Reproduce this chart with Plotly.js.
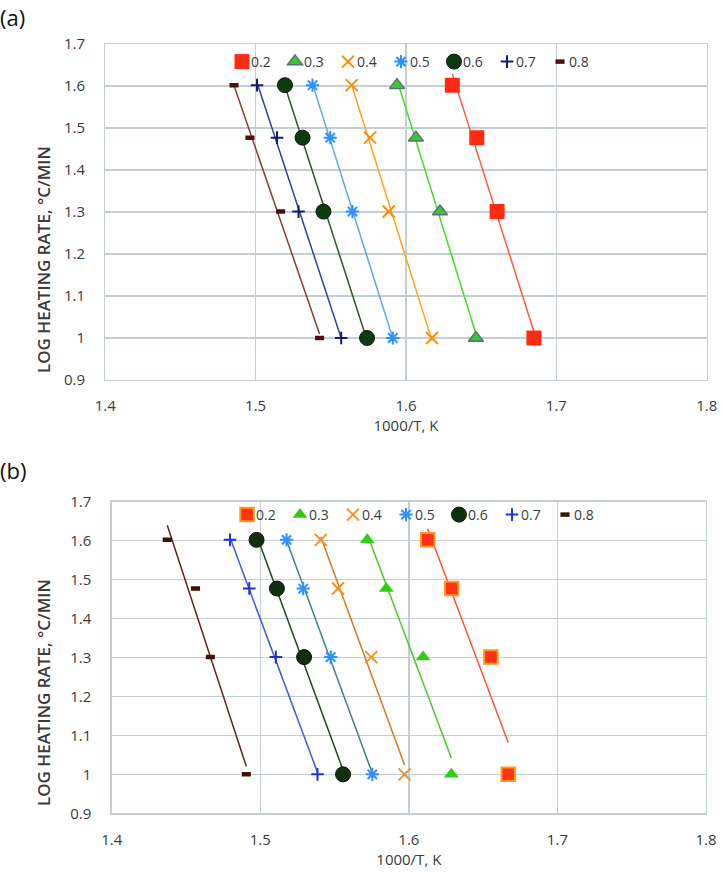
<!DOCTYPE html>
<html><head><meta charset="utf-8">
<script src="https://cdn.plot.ly/plotly-3.0.1.min.js"></script>
<style>html,body{margin:0;padding:0;background:#fff}#chart{width:722px;height:872px}</style>
</head><body><div id="chart"></div>
<script>
// ---- data ----
const logRate = [1.602, 1.477, 1.301, 1.0];          // log heating rate (40, 30, 20, 10 °C/min)
const seriesNames = ['0.2', '0.3', '0.4', '0.5', '0.6', '0.7', '0.8'];
// panel (a): 1000/T values per conversion level
const a02 = [1.6308, 1.6471, 1.6606, 1.6851];
const a03 = [1.5940, 1.6066, 1.6226, 1.6465];
const a04 = [1.5639, 1.5761, 1.5885, 1.6173];
const a05 = [1.5378, 1.5496, 1.5644, 1.5912];
const a06 = [1.5195, 1.5312, 1.5451, 1.5741];
const a07 = [1.5009, 1.5142, 1.5285, 1.5569];
const a08 = [1.4856, 1.4962, 1.5166, 1.5425];
// panel (b)
const b02 = [1.6127, 1.6288, 1.6552, 1.6669];
const b03 = [1.5720, 1.5848, 1.6096, 1.6286];
const b04 = [1.5407, 1.5523, 1.5747, 1.5971];
const b05 = [1.5177, 1.5289, 1.5474, 1.5754];
const b06 = [1.4975, 1.5112, 1.5295, 1.5557];
const b07 = [1.4796, 1.4926, 1.5105, 1.5385];
const b08 = [1.4374, 1.4564, 1.4664, 1.4906];
const xTickVals = [1.4, 1.5, 1.6, 1.7, 1.8];
const yTickVals = [0.9, 1, 1.1, 1.2, 1.3, 1.4, 1.5, 1.6, 1.7];
const xTitle = '1000/T, K';
const yTitle = 'LOG HEATING RATE, °C/MIN';

const panelA = [a02, a03, a04, a05, a06, a07, a08];
const panelB = [b02, b03, b04, b05, b06, b07, b08];

// ---- styles ----
const styleA = [
  {m: {symbol: 'square', size: 15, color: '#ff2a12', line: {width: 0}}, l: '#ff5a3c'},
  {m: {symbol: 'triangle-up', size: 13, color: '#33cc2c', line: {width: 1.5, color: '#5f6f75'}}, l: '#44dd22'},
  {m: {symbol: 'x-thin-open', size: 12, color: '#ff8c00', line: {width: 2, color: '#ff8c00'}}, l: '#ffa31a'},
  {m: {symbol: 'asterisk-open', size: 11, color: '#2e8fff', line: {width: 2, color: '#2e8fff'}}, l: '#55aaee'},
  {m: {symbol: 'circle', size: 15, color: '#0f3a0f', line: {width: 1, color: '#082008'}}, l: '#2c5a22'},
  {m: {symbol: 'cross-thin-open', size: 9, color: '#0d1f73', line: {width: 2, color: '#0d1f73'}}, l: '#2c449a'},
  {m: {symbol: 'line-ew-open', size: 6.5, color: '#4d1208', line: {width: 4.5, color: '#4d1208'}}, l: '#8a3d2a'}
];
const styleB = [
  {m: {symbol: 'square', size: 13.5, color: '#ff3311', line: {width: 2, color: '#ff9922'}}, l: '#ff5533'},
  {m: {symbol: 'triangle-up', size: 13, color: '#33cc11', line: {width: 0}}, l: '#44cc22'},
  {m: {symbol: 'x-thin-open', size: 12, color: '#ff8c1a', line: {width: 2, color: '#ff8c1a'}}, l: '#d9781a'},
  {m: {symbol: 'asterisk-open', size: 11, color: '#2e8fff', line: {width: 2, color: '#2e8fff'}}, l: '#3f7f8f'},
  {m: {symbol: 'circle', size: 15, color: '#0f2f0f', line: {width: 1, color: '#061806'}}, l: '#1f4a18'},
  {m: {symbol: 'cross-thin-open', size: 9, color: '#1a2fe0', line: {width: 2, color: '#1a2fe0'}}, l: '#3a5ee0'},
  {m: {symbol: 'line-ew-open', size: 6.5, color: '#3d1400', line: {width: 4.5, color: '#3d1400'}}, l: '#5a2a18'}
];

// linear trendline y = a + b x, drawn across the data's x range (as a spreadsheet trendline)
function trend(xs, ys) {
  const n = xs.length;
  const mx = xs.reduce((s, v) => s + v, 0) / n;
  const my = ys.reduce((s, v) => s + v, 0) / n;
  let sxy = 0, sxx = 0;
  for (let i = 0; i < n; i++) { sxy += (xs[i] - mx) * (ys[i] - my); sxx += (xs[i] - mx) * (xs[i] - mx); }
  const b = sxy / sxx, a = my - b * mx;
  const x0 = Math.min(...xs), x1 = Math.max(...xs);
  return {x: [x0, x1], y: [a + b * x0, a + b * x1]};
}

const traces = [];
function addPanel(panel, styles, xa, ya, legendId) {
  panel.forEach((xs, i) => {
    const t = trend(xs, logRate);
    traces.push({x: t.x, y: t.y, xaxis: xa, yaxis: ya, mode: 'lines', type: 'scatter',
      line: {color: styles[i].l, width: 1.5}, showlegend: false, hoverinfo: 'skip'});
  });
  panel.forEach((xs, i) => {
    traces.push({x: xs, y: logRate, xaxis: xa, yaxis: ya, mode: 'markers', type: 'scatter',
      name: seriesNames[i], marker: styles[i].m, legend: legendId});
  });
}
addPanel(panelA, styleA, 'x', 'y', 'legend');
addPanel(panelB, styleB, 'x2', 'y2', 'legend2');

const gridC = '#c3cfd3';
const FONT = 'Open Sans, sans-serif';
const tickFont = {family: FONT, size: 15, color: '#3a3a3a'};
function xAx(domain, anchor) {
  return {domain: domain, anchor: anchor, range: [1.4, 1.8], tickvals: xTickVals, ticktext: xTickVals.map(String),
    showgrid: true, gridcolor: gridC, gridwidth: 1.3, showline: true, linecolor: gridC, linewidth: 1.3, mirror: true,
    zeroline: false, ticks: '', tickfont: tickFont, ticklabelstandoff: 12,
    title: {text: xTitle, font: {family: FONT, size: 15, color: '#3a3a3a'}, standoff: 5}};
}
function yAx(domain, anchor) {
  return {domain: domain, anchor: anchor, range: [0.9, 1.7], tickvals: yTickVals,
    showgrid: true, gridcolor: gridC, gridwidth: 1.3, showline: true, linecolor: gridC, linewidth: 1.3, mirror: true,
    zeroline: false, ticks: '', tickfont: tickFont, ticklabelstandoff: 16};
}
const legendBase = {orientation: 'h', xanchor: 'left', yanchor: 'middle', bgcolor: 'rgba(0,0,0,0)',
  font: {family: FONT, size: 14, color: '#3a3a3a'}, itemwidth: 30, entrywidth: 8, tracegroupgap: 0};

const yTitleFont = {family: FONT, size: 17, color: '#3a3a3a', weight: 600};
const layout = {
  width: 722, height: 872, margin: {l: 0, r: 0, t: 0, b: 0},
  paper_bgcolor: '#fff', plot_bgcolor: '#fff',
  font: {family: FONT},
  xaxis: xAx([105.3 / 722, 706.7 / 722], 'y'),
  yaxis: yAx([1 - 380 / 872, 1 - 44 / 872], 'x'),
  xaxis2: xAx([111.7 / 722, 706 / 722], 'y2'),
  yaxis2: yAx([1 - 813.3 / 872, 1 - 501.7 / 872], 'x2'),
  legend: Object.assign({}, legendBase, {x: 222 / 722, y: 1 - 62 / 872}),
  legend2: Object.assign({}, legendBase, {x: 227 / 722, y: 1 - 515 / 872}),
  annotations: [
    {text: '(a)', xref: 'paper', yref: 'paper', x: 0, y: 1, xanchor: 'left', yanchor: 'top', showarrow: false,
      font: {family: FONT, size: 22, color: '#111'}, xshift: -2, yshift: 0},
    {text: '(b)', xref: 'paper', yref: 'paper', x: 0, y: 1 - 453 / 872, xanchor: 'left', yanchor: 'top', showarrow: false,
      font: {family: FONT, size: 22, color: '#111'}, xshift: -2},
    {text: yTitle, xref: 'paper', yref: 'paper', x: 43 / 722, y: 1 - 260 / 872, xanchor: 'center', yanchor: 'middle',
      textangle: -90, showarrow: false, font: yTitleFont},
    {text: yTitle, xref: 'paper', yref: 'paper', x: 43 / 722, y: 1 - 693 / 872, xanchor: 'center', yanchor: 'middle',
      textangle: -90, showarrow: false, font: yTitleFont}
  ],
  showlegend: true
};

Plotly.newPlot('chart', traces, layout, {displayModeBar: false, staticPlot: true}).then(function (gd) {
  // pull legend labels closer to their symbols, as in the reference, and let the last label show fully
  const legends = gd.querySelectorAll('g.legend, g.legend2');
  legends.forEach(function (lg) {
    lg.removeAttribute('clip-path');
    lg.querySelectorAll('[clip-path]').forEach(function (el) { el.removeAttribute('clip-path'); });
    lg.querySelectorAll('g.traces text').forEach(function (t) {
      t.setAttribute('x', 29);
      t.querySelectorAll('tspan[x]').forEach(function (s) { s.setAttribute('x', 29); });
    });
  });
});
</script>
</body></html>
